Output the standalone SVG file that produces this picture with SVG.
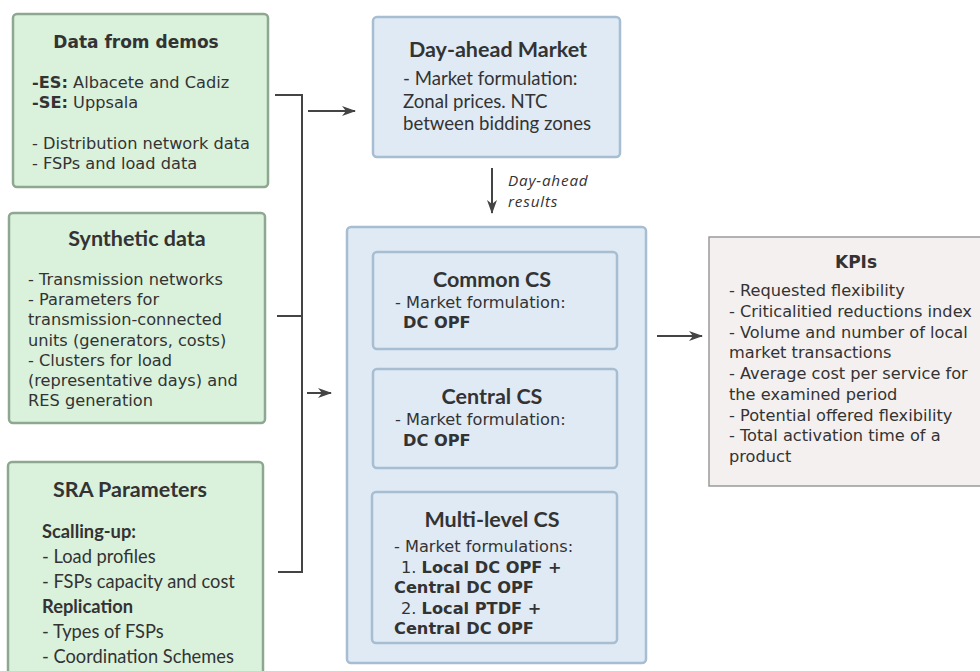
<svg xmlns="http://www.w3.org/2000/svg" width="980" height="671" viewBox="0 0 980 671">
<style>
.green{fill:#daf1dc;stroke:#8ea790;stroke-width:2.5}
.blue{fill:#dfeaf5;stroke:#a7bdd2;stroke-width:2.5}
.kpi{fill:#f4f0ef;stroke:#9a9a9a;stroke-width:1.5}
.dv{font-family:"DejaVu Sans",sans-serif;fill:#333}
.cal{font-family:Lato,"Liberation Sans",sans-serif;fill:#333}
.b{font-weight:bold}
.t{font-size:17px;font-weight:bold;text-anchor:middle}
.ct{font-size:21.5px;font-weight:bold;text-anchor:middle}
.body{font-size:16.2px}
.cb{font-size:18.3px}
.it{font-family:"Open Sans",sans-serif;fill:#333;font-style:italic;font-size:15.3px;letter-spacing:0.8px}
.line{fill:none;stroke:#444;stroke-width:2}
</style>
<defs>
<marker id="ah" markerWidth="14" markerHeight="10" refX="13" refY="5" orient="auto" markerUnits="userSpaceOnUse">
<path d="M0,0 L14,5 L0,10 L4,5 Z" fill="#444"/>
</marker>
</defs>
<g id="connectors">
<path class="line" d="M275,95 H302 V572 H278"/>
<path class="line" d="M277,316 H302"/>
<path class="line" d="M308,111 H355" marker-end="url(#ah)"/>
<path class="line" d="M307,393 H331" marker-end="url(#ah)"/>
<path class="line" d="M492,168 V213" marker-end="url(#ah)"/>
<path class="line" d="M657,336 H702" marker-end="url(#ah)"/>
<text class="it" x="508" y="186">Day-ahead</text>
<text class="it" x="508" y="207">results</text>
</g>
<g id="data-demos">
<rect class="green" x="13" y="14" width="255" height="173" rx="4"/>
<text class="dv t" x="136" y="48">Data from demos</text>
<text class="dv body" x="32" y="88"><tspan class="b">-ES:</tspan> Albacete and Cadiz</text>
<text class="dv body" x="32" y="108"><tspan class="b">-SE:</tspan> Uppsala</text>
<text class="dv body" x="32" y="149">- Distribution network data</text>
<text class="dv body" x="32" y="169">- FSPs and load data</text>
</g>
<g id="synthetic">
<rect class="green" x="9" y="213" width="256" height="210" rx="4"/>
<text class="cal ct" x="137" y="246">Synthetic data</text>
<text class="dv body" x="28" y="285">- Transmission networks</text>
<text class="dv body" x="28" y="305">- Parameters for</text>
<text class="dv body" x="28" y="325">transmission-connected</text>
<text class="dv body" x="28" y="346">units (generators, costs)</text>
<text class="dv body" x="28" y="366">- Clusters for load</text>
<text class="dv body" x="28" y="386">(representative days) and</text>
<text class="dv body" x="28" y="406">RES generation</text>
</g>
<g id="sra">
<rect class="green" x="8" y="462" width="255" height="215" rx="4"/>
<text class="cal ct" x="130" y="497">SRA Parameters</text>
<text class="cal cb b" x="42" y="538">Scalling-up:</text>
<text class="cal cb" x="42" y="563">- Load profiles</text>
<text class="cal cb" x="42" y="588">- FSPs capacity and cost</text>
<text class="cal cb b" x="42" y="613">Replication</text>
<text class="cal cb" x="42" y="638">- Types of FSPs</text>
<text class="cal cb" x="42" y="663">- Coordination Schemes</text>
</g>
<g id="day-ahead">
<rect class="blue" x="373" y="17" width="247" height="140" rx="4"/>
<text class="cal ct" x="498" y="57">Day-ahead Market</text>
<text class="cal" font-size="18.6" x="403" y="85">- Market formulation:</text>
<text class="cal" font-size="18.6" x="403" y="108">Zonal prices. NTC</text>
<text class="cal" font-size="18.6" x="403" y="130">between bidding zones</text>
</g>
<g id="cs-container">
<rect class="blue" x="347" y="227" width="299" height="436" rx="4"/>
</g>
<g id="common-cs">
<rect class="blue" x="373" y="252" width="244" height="97" rx="4"/>
<text class="cal ct" x="492" y="287">Common CS</text>
<text class="dv body" x="395" y="308">- Market formulation:</text>
<text class="dv body b" x="403" y="328">DC OPF</text>
</g>
<g id="central-cs">
<rect class="blue" x="373" y="369" width="244" height="99" rx="4"/>
<text class="cal ct" x="492" y="404">Central CS</text>
<text class="dv body" x="395" y="425">- Market formulation:</text>
<text class="dv body b" x="403" y="446">DC OPF</text>
</g>
<g id="multi-cs">
<rect class="blue" x="372" y="492" width="245" height="151" rx="4"/>
<text class="cal ct" x="492" y="527">Multi-level CS</text>
<text class="dv body" x="394" y="552">- Market formulations:</text>
<text class="dv body" x="401" y="573">1. <tspan class="b">Local DC OPF +</tspan></text>
<text class="dv body b" x="394" y="593">Central DC OPF</text>
<text class="dv body" x="401" y="614">2. <tspan class="b">Local PTDF +</tspan></text>
<text class="dv body b" x="394" y="634">Central DC OPF</text>
</g>
<g id="kpis">
<rect class="kpi" x="709" y="237" width="274" height="249"/>
<text class="dv t" x="856" y="268">KPIs</text>
<text class="dv body" x="729" y="296">- Requested flexibility</text>
<text class="dv body" x="729" y="317">- Criticalitied reductions index</text>
<text class="dv body" x="729" y="338">- Volume and number of local</text>
<text class="dv body" x="729" y="358">market transactions</text>
<text class="dv body" x="729" y="379">- Average cost per service for</text>
<text class="dv body" x="729" y="400">the examined period</text>
<text class="dv body" x="729" y="421">- Potential offered flexibility</text>
<text class="dv body" x="729" y="441">- Total activation time of a</text>
<text class="dv body" x="729" y="462">product</text>
</g>
</svg>
